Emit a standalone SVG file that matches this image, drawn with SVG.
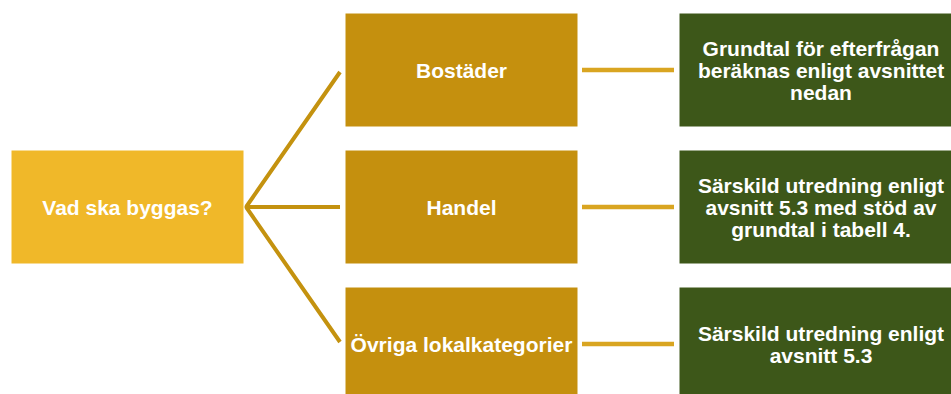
<svg xmlns="http://www.w3.org/2000/svg" width="951" height="394" viewBox="0 0 951 394">
  <style>
    .box { stroke: #ffffff; stroke-width: 1; }
    .root { fill: #F0B829; }
    .mid { fill: #C5900E; }
    .leaf { fill: #3D5719; }
    .lbl { font-family: "Liberation Sans", Arial, sans-serif; font-weight: bold; font-size: 21px; fill: #ffffff; text-anchor: middle; }
    .fan { stroke: #C4920F; stroke-width: 4; fill: none; stroke-linecap: butt; }
    .link { stroke: #D9A521; stroke-width: 4.5; fill: none; }
  </style>

  <g id="connectors">
    <path class="fan" d="M340,72 L246,207 L340,342"/>
    <line class="fan" x1="246" y1="207" x2="340" y2="207"/>
    <line class="link" x1="582" y1="70" x2="674" y2="70"/>
    <line class="link" x1="582" y1="207" x2="674" y2="207"/>
    <line class="link" x1="582" y1="344" x2="674" y2="344"/>
  </g>

  <g id="node-vad">
    <rect class="box root" x="11" y="150" width="233" height="114"/>
    <text class="lbl" x="127.5" y="214.5">Vad ska byggas?</text>
  </g>

  <g id="node-bostader">
    <rect class="box mid" x="345" y="13" width="233" height="114"/>
    <text class="lbl" x="461.5" y="77.5">Bostäder</text>
  </g>

  <g id="node-handel">
    <rect class="box mid" x="345" y="150" width="233" height="114"/>
    <text class="lbl" x="461.5" y="214.5">Handel</text>
  </g>

  <g id="node-ovriga">
    <rect class="box mid" x="345" y="287" width="233" height="114"/>
    <text class="lbl" x="461.5" y="351.5">Övriga lokalkategorier</text>
  </g>

  <g id="node-grundtal">
    <rect class="box leaf" x="679" y="13" width="284" height="114"/>
    <text class="lbl" x="821" y="55.5">Grundtal för efterfrågan</text>
    <text class="lbl" x="821" y="77.5">beräknas enligt avsnittet</text>
    <text class="lbl" x="821" y="99.5">nedan</text>
  </g>

  <g id="node-handel-utredning">
    <rect class="box leaf" x="679" y="150" width="284" height="114"/>
    <text class="lbl" x="821" y="192.5">Särskild utredning enligt</text>
    <text class="lbl" x="821" y="214.5">avsnitt 5.3 med stöd av</text>
    <text class="lbl" x="821" y="236.5">grundtal i tabell 4.</text>
  </g>

  <g id="node-ovriga-utredning">
    <rect class="box leaf" x="679" y="287" width="284" height="114"/>
    <text class="lbl" x="821" y="340.5">Särskild utredning enligt</text>
    <text class="lbl" x="821" y="362.5">avsnitt 5.3</text>
  </g>
</svg>
